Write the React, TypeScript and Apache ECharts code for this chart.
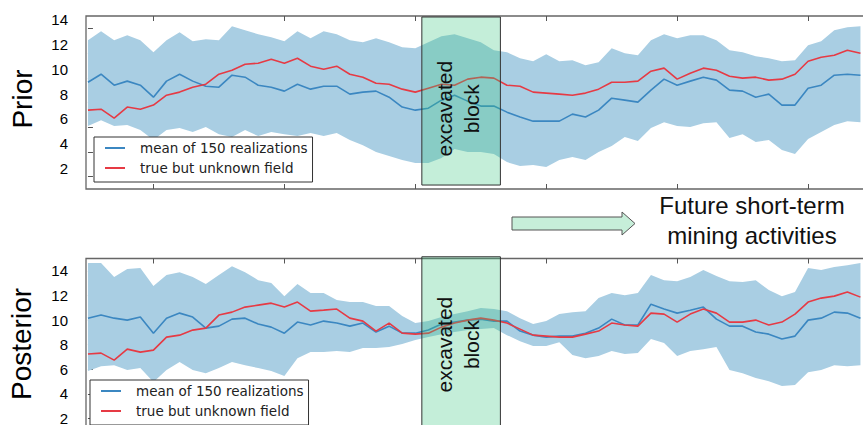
import React, { useEffect, useRef } from 'react';
import * as echarts from 'echarts';

// ---- data ----
const xs = [0, 2, 4, 6, 8, 10, 12, 14, 16, 18, 20, 22, 24, 26, 28, 30, 32, 34, 36, 38,
  40, 42, 44, 46, 48, 50, 52, 54, 56, 58, 60, 62, 64, 66, 68, 70, 72, 74, 76, 78,
  80, 82, 84, 86, 88, 90, 92, 94, 96, 98, 100, 102, 104, 106, 108, 110, 112, 114, 116, 118];

const xTicks = [10, 30, 50, 70, 90, 110];
const yTicks = [2, 4, 6, 8, 10, 12, 14];
const blockRange = [51, 63];

const meanName = 'mean of 150 realizations';
const trueName = 'true but unknown field';

const priorMean = [9.64, 10.29, 9.40, 9.73, 9.40, 8.43, 9.73, 10.29, 9.73, 9.32,
  9.24, 10.21, 10.05, 9.40, 9.24, 8.92, 9.48, 9.08, 9.32, 9.32,
  8.68, 8.84, 8.92, 8.43, 7.63, 7.38, 7.54, 8.19, 8.59, 8.11,
  7.71, 7.71, 7.22, 6.82, 6.49, 6.49, 6.49, 7.06, 6.82, 7.38,
  8.35, 8.19, 8.03, 9.00, 9.89, 9.40, 9.73, 10.05, 9.81, 9.00,
  8.92, 8.43, 8.68, 7.79, 7.79, 9.16, 9.40, 10.21, 10.29, 10.21];

const priorTrue = [7.38, 7.46, 6.74, 7.63, 7.46, 7.79, 8.59, 8.84, 9.24, 9.48,
  10.29, 10.61, 11.10, 11.18, 11.50, 11.18, 11.58, 10.94, 10.69, 10.94,
  10.29, 10.05, 9.56, 9.48, 9.08, 8.84, 9.16, 9.48, 9.40, 9.89,
  10.05, 9.97, 9.40, 9.32, 8.84, 8.76, 8.68, 8.59, 8.76, 9.08,
  9.64, 9.64, 9.73, 10.53, 10.78, 9.89, 10.37, 10.78, 10.61, 10.13,
  9.97, 10.05, 9.81, 9.89, 10.29, 11.34, 11.66, 11.83, 12.23, 11.99];

const priorUpper = [13.04, 13.76, 13.04, 13.44, 13.04, 12.07, 13.04, 13.68, 12.96, 13.12,
  13.04, 14.17, 13.85, 13.52, 13.28, 12.96, 13.76, 13.20, 13.76, 13.52,
  13.04, 12.88, 13.20, 12.88, 12.47, 12.39, 12.88, 13.36, 13.52, 13.20,
  12.88, 12.23, 12.07, 11.58, 11.34, 11.91, 11.34, 11.42, 11.02, 11.26,
  12.39, 11.99, 11.83, 13.04, 13.52, 13.20, 13.44, 13.44, 13.04, 12.23,
  12.07, 11.74, 11.58, 11.34, 11.42, 12.63, 12.96, 13.85, 14.09, 14.17];

const priorLower = [6.09, 6.57, 6.09, 6.17, 5.77, 4.96, 5.77, 5.93, 5.61, 6.01,
  5.44, 5.20, 5.77, 5.28, 5.61, 5.44, 5.28, 5.53, 5.28, 5.53,
  4.96, 4.55, 3.99, 3.67, 3.34, 3.10, 3.10, 3.50, 4.23, 3.99,
  3.99, 3.83, 3.18, 2.86, 2.94, 2.78, 3.34, 3.59, 3.34, 3.99,
  4.47, 5.20, 4.88, 5.93, 6.41, 6.09, 6.01, 6.33, 6.41, 5.12,
  5.44, 4.80, 4.96, 4.15, 3.83, 5.04, 5.61, 6.17, 6.49, 6.41];

const postMean = [10.15, 10.40, 10.15, 9.99, 10.24, 8.93, 10.15, 10.56, 10.24, 9.34,
  9.50, 10.07, 10.15, 9.67, 9.42, 8.93, 9.83, 9.59, 9.91, 9.75,
  9.50, 9.75, 9.02, 9.50, 8.93, 8.93, 9.18, 9.67, 9.83, 9.99,
  10.07, 9.91, 9.91, 9.10, 8.77, 8.61, 8.69, 8.69, 8.93, 9.34,
  10.07, 9.59, 9.59, 11.29, 10.89, 10.56, 10.80, 11.05, 10.07, 9.50,
  9.50, 9.02, 8.85, 8.45, 8.69, 9.99, 10.15, 10.64, 10.56, 10.15];

const postTrue = [7.23, 7.31, 6.74, 7.63, 7.39, 7.55, 8.61, 8.77, 9.18, 9.34,
  10.40, 10.64, 11.05, 11.21, 11.37, 11.05, 11.46, 10.72, 10.80, 10.89,
  10.15, 9.91, 9.10, 9.75, 8.93, 8.85, 8.93, 9.42, 9.75, 9.99,
  10.15, 9.99, 9.75, 9.26, 8.77, 8.69, 8.61, 8.61, 8.85, 9.10,
  9.75, 9.59, 9.50, 10.56, 10.48, 9.83, 10.48, 10.89, 10.56, 9.83,
  9.83, 9.99, 9.59, 9.83, 10.48, 11.46, 11.78, 11.94, 12.27, 11.86];

const postUpper = [14.63, 14.63, 13.49, 14.14, 14.22, 12.76, 13.65, 13.89, 13.49, 12.92,
  13.65, 14.38, 13.89, 13.24, 13.00, 11.94, 12.92, 12.19, 12.19, 11.62,
  11.46, 11.46, 11.13, 11.13, 10.32, 9.75, 9.91, 10.24, 10.48, 10.72,
  10.97, 10.89, 10.72, 10.15, 9.67, 9.91, 10.48, 10.64, 10.72, 11.78,
  12.19, 12.02, 12.19, 13.65, 13.24, 13.16, 13.49, 14.06, 13.57, 13.16,
  13.08, 13.24, 12.43, 11.94, 12.27, 14.22, 14.06, 14.30, 14.46, 14.63];

const postLower = [5.85, 6.25, 6.33, 5.93, 6.09, 4.95, 5.93, 6.58, 5.93, 5.68,
  6.09, 6.58, 6.33, 6.09, 5.85, 5.44, 6.90, 7.39, 7.39, 7.47,
  7.39, 7.72, 7.72, 7.80, 8.04, 8.37, 8.61, 8.85, 9.02, 9.18,
  9.26, 9.34, 8.77, 8.28, 7.88, 7.88, 8.20, 7.15, 6.90, 7.07,
  7.47, 7.23, 7.31, 8.45, 8.12, 7.07, 7.47, 7.63, 7.80, 5.93,
  5.68, 5.28, 5.03, 4.63, 4.71, 5.76, 5.93, 6.33, 6.25, 6.33];

const BAND = '#a9cee3';
const BLUE = '#3b87c1';
const RED = '#e63a44';
const X_MIN = -0.3;
const X_MAX = 119;

export default function App() {
  const ref = useRef<HTMLDivElement>(null);

  useEffect(() => {
    const chart = echarts.init(ref.current as HTMLDivElement, null, { renderer: 'svg' });
    const pairs = (arr: number[]) => xs.map((x, i) => [x, arr[i]]);

    const xAxisFor = (gridIndex: number, position: 'top' | 'bottom') => ({
      type: 'value', gridIndex, position, min: X_MIN, max: X_MAX,
      axisLine: { show: false },
      axisLabel: { show: false },
      splitLine: { show: false },
      axisTick: { show: true, inside: true, length: 5, customValues: xTicks, lineStyle: { color: '#555', width: 1 } },
    });

    const yAxisFor = (gridIndex: number, raised: boolean) => ({
      type: 'value', gridIndex, min: 1, max: 15,
      axisLine: { show: false },
      splitLine: { show: false },
      axisTick: { show: true, inside: true, length: 5, customValues: yTicks, lineStyle: { color: '#555', width: 1 } },
      axisLabel: {
        show: true, customValues: yTicks, margin: 18, color: '#000',
        fontFamily: 'Liberation Sans', fontSize: 15,
        verticalAlign: raised ? 'bottom' : 'middle',
        lineHeight: raised ? 17 : 16,
      },
    });

    const bandSeries = (p: number, lower: number[], upper: number[]) => ({
      name: 'band' + p, type: 'custom', xAxisIndex: p * 2, yAxisIndex: p, silent: true, z: 1,
      data: xs.map((x, i) => [x, lower[i], upper[i]]),
      encode: { x: 0, y: [1, 2] },
      renderItem: (params: any, api: any) => {
        if (params.dataIndex !== 0) return null;
        const top = xs.map((x, i) => api.coord([x, upper[i]]));
        const bot = xs.map((x, i) => api.coord([x, lower[i]])).reverse();
        return { type: 'polygon', shape: { points: top.concat(bot) }, style: { fill: BAND, stroke: null } };
      },
    });

    const panelSeries = (p: number, lower: number[], upper: number[], mean: number[], tru: number[]) => {
      const xi = p * 2;
      return [
        bandSeries(p, lower, upper),
        { name: meanName, type: 'line', xAxisIndex: xi, yAxisIndex: p, data: pairs(mean), symbol: 'none',
          lineStyle: { color: BLUE, width: 1.6 }, itemStyle: { color: BLUE }, z: 3 },
        { name: trueName, type: 'line', xAxisIndex: xi, yAxisIndex: p, data: pairs(tru), symbol: 'none',
          lineStyle: { color: RED, width: 1.6 }, itemStyle: { color: RED }, z: 4 },
      ];
    };

    const legendFor = (left: number, top: number) => ({
      data: [meanName, trueName], orient: 'vertical', left, top,
      padding: [4, 5, 7, 10], itemGap: 6, itemWidth: 20, itemHeight: 14,
      borderColor: '#333', borderWidth: 1, backgroundColor: '#fff', borderRadius: 0,
      selectedMode: false,
      itemStyle: { opacity: 0 },
      textStyle: { fontFamily: 'DejaVu Sans', fontSize: 13.5, color: '#222', lineHeight: 14, padding: [0, 0, 0, 10] },
      z: 20,
    });

    chart.setOption({
      animation: false,
      backgroundColor: '#fff',
      grid: [
        { left: 86, top: 16, width: 781, height: 173, show: true, borderColor: '#666', borderWidth: 1.3, backgroundColor: 'transparent' },
        { left: 86, top: 258.5, width: 781, height: 172.2, show: true, borderColor: '#666', borderWidth: 1.3, backgroundColor: 'transparent' },
      ],
      xAxis: [xAxisFor(0, 'bottom'), xAxisFor(0, 'top'), xAxisFor(1, 'bottom'), xAxisFor(1, 'top')],
      yAxis: [yAxisFor(0, true), yAxisFor(1, false)],
      legend: [legendFor(94, 137), legendFor(90, 380)],
      series: [
        ...panelSeries(0, priorLower, priorUpper, priorMean, priorTrue),
        ...panelSeries(1, postLower, postUpper, postMean, postTrue),
      ],
    });

    const px = (g: number, x: number, y: number) => chart.convertToPixel({ gridIndex: g } as any, [x, y]) as number[];
    const block = (g: number, yTop: number, yBot: number, yText: number) => {
      const a = px(g, blockRange[0], yTop);
      const b = px(g, blockRange[1], yBot);
      const c = px(g, (blockRange[0] + blockRange[1]) / 2 - 0.5, yText);
      return [
        { type: 'rect', shape: { x: a[0], y: a[1], width: b[0] - a[0], height: b[1] - a[1] },
          style: { fill: 'rgba(60,200,130,0.3)', stroke: '#333', lineWidth: 1 }, z: 100 },
        { type: 'text', x: c[0], y: c[1], rotation: Math.PI / 2,
          style: { text: 'excavated\nblock', fill: '#111', fontSize: 21, fontFamily: 'Liberation Sans',
            align: 'center', verticalAlign: 'middle', lineHeight: 27 }, z: 101 },
      ];
    };

    chart.setOption({
      graphic: [
        ...block(0, 14.92, 1.32, 7.5),
        ...block(1, 15.14, 0.2, 8.0),
        { type: 'text', x: 22, y: 99, rotation: Math.PI / 2,
          style: { text: 'Prior', fill: '#000', fontSize: 28, fontFamily: 'Liberation Sans', align: 'center', verticalAlign: 'middle' }, z: 50 },
        { type: 'text', x: 21, y: 344, rotation: Math.PI / 2,
          style: { text: 'Posterior', fill: '#000', fontSize: 28, fontFamily: 'Liberation Sans', align: 'center', verticalAlign: 'middle' }, z: 50 },
        { type: 'polygon', shape: { points: [[512, 217], [622, 217], [622, 212], [635, 223.5], [622, 235], [622, 230], [512, 230]] },
          style: { fill: '#c6eed9', stroke: '#555', lineWidth: 1 }, z: 50 },
        { type: 'text', x: 752, y: 220,
          style: { text: 'Future short-term\nmining activities', fill: '#111', fontSize: 24, lineHeight: 30,
            fontFamily: 'Liberation Sans', align: 'center', verticalAlign: 'middle' }, z: 50 },
      ],
    });

    return () => chart.dispose();
  }, []);

  return (
    <div style={{ position: 'absolute', left: 0, top: 0, width: 863, height: 425, overflow: 'hidden', background: '#fff' }}>
      <div ref={ref} style={{ width: 880, height: 440 }} />
    </div>
  );
}
